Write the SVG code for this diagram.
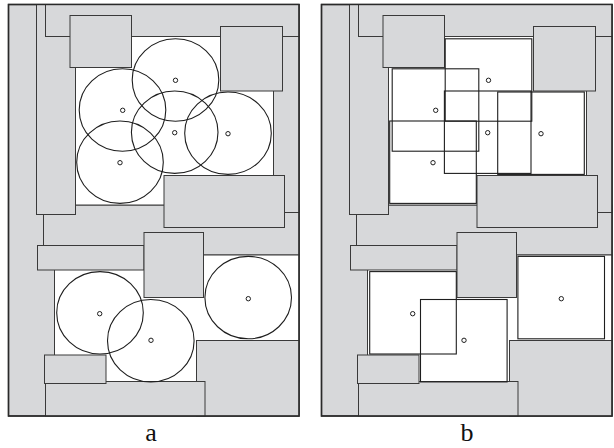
<svg xmlns="http://www.w3.org/2000/svg" xmlns:xlink="http://www.w3.org/1999/xlink" width="614" height="448" viewBox="0 0 614 448">
<style>
.g{fill:#d7d8da;stroke:#3a3a3a;stroke-width:1}
.w{fill:#ffffff;stroke:#3a3a3a;stroke-width:1}
.f{fill:#d7d8da;stroke:#2a2a2a;stroke-width:1.4}
.c{fill:none;stroke:#1e1e1e;stroke-width:1.1}
.d{fill:#ffffff;stroke:#1e1e1e;stroke-width:1}
.lbl{font-family:"Liberation Serif","DejaVu Serif",serif;font-size:26px;fill:#111;text-anchor:middle}
</style>
<defs>
<g id="layout">
<rect class="f" x="8.5" y="4.5" width="290.5" height="411.5"/>
<rect class="g" x="43.5" y="205" width="255.5" height="50"/>
<rect class="g" x="36.5" y="4.5" width="39" height="210"/>
<rect class="g" x="45.5" y="4.5" width="253.5" height="32"/>
<rect class="g" x="273.5" y="36.5" width="25.5" height="176"/>
<rect class="w" x="75.5" y="36.5" width="198" height="168.5"/>
<rect class="g" x="70" y="15.5" width="61.5" height="52"/>
<rect class="g" x="220.5" y="26.5" width="62" height="64.5"/>
<rect class="g" x="164" y="175.5" width="120.5" height="52"/>
<rect class="w" x="54.5" y="255" width="244.5" height="127"/>
<rect class="g" x="37.5" y="245.5" width="106.5" height="24.5"/>
<rect class="g" x="144" y="232.5" width="59.5" height="65"/>
<rect class="g" x="196.5" y="340.5" width="102.5" height="75.5"/>
<rect class="g" x="45.5" y="381.5" width="159.5" height="34.5"/>
<rect class="g" x="44.5" y="355" width="61.5" height="28.5"/>
<rect x="8.5" y="4.5" width="290.5" height="411.5" fill="none" stroke="#2a2a2a" stroke-width="1.4"/>
</g>
</defs>
<g id="panel-a">
<use xlink:href="#layout" href="#layout"/>
<g id="circles-a">
<ellipse class="c" cx="175.5" cy="80" rx="43.3" ry="41.2"/>
<ellipse class="c" cx="122.5" cy="110" rx="43.3" ry="41.2"/>
<ellipse class="c" cx="174.7" cy="132.2" rx="43.3" ry="41.2"/>
<ellipse class="c" cx="228" cy="133.2" rx="43.3" ry="41.2"/>
<ellipse class="c" cx="120" cy="162.2" rx="43.3" ry="41.2"/>
<ellipse class="c" cx="100" cy="312.8" rx="43.3" ry="41.2"/>
<ellipse class="c" cx="150.8" cy="340.7" rx="43.3" ry="41.2"/>
<ellipse class="c" cx="248.2" cy="297.6" rx="43.3" ry="41.2"/>
</g>
<g id="centers-a">
<circle class="d" cx="175.5" cy="80.3" r="2.2"/>
<circle class="d" cx="122.7" cy="110.3" r="2.2"/>
<circle class="d" cx="174.7" cy="132.7" r="2.2"/>
<circle class="d" cx="228" cy="133.7" r="2.2"/>
<circle class="d" cx="120" cy="162.7" r="2.2"/>
<circle class="d" cx="99.7" cy="313.7" r="2.2"/>
<circle class="d" cx="151" cy="340.3" r="2.2"/>
<circle class="d" cx="248.3" cy="298.7" r="2.2"/>
</g>
<text class="lbl" x="151" y="441">a</text>
</g>
<g id="panel-b">
<use xlink:href="#layout" href="#layout" transform="translate(313,0)"/>
<g id="squares-b" transform="translate(313,0)">
<rect class="c" x="132.2" y="38.8" width="86.6" height="82.4"/>
<rect class="c" x="79.2" y="68.8" width="86.6" height="82.4"/>
<rect class="c" x="131.4" y="91" width="86.6" height="82.4"/>
<rect class="c" x="184.7" y="92" width="86.6" height="82.4"/>
<rect class="c" x="76.7" y="121" width="86.6" height="82.4"/>
<rect class="c" x="56.7" y="271.6" width="86.6" height="82.4"/>
<rect class="c" x="107.5" y="299.5" width="86.6" height="82.4"/>
<rect class="c" x="204.9" y="256.4" width="86.6" height="82.4"/>
</g>
<g id="centers-b" transform="translate(313,0)">
<circle class="d" cx="175.5" cy="80.3" r="2.2"/>
<circle class="d" cx="122.7" cy="110.3" r="2.2"/>
<circle class="d" cx="174.7" cy="132.7" r="2.2"/>
<circle class="d" cx="228" cy="133.7" r="2.2"/>
<circle class="d" cx="120" cy="162.7" r="2.2"/>
<circle class="d" cx="99.7" cy="313.7" r="2.2"/>
<circle class="d" cx="151" cy="340.3" r="2.2"/>
<circle class="d" cx="248.3" cy="298.7" r="2.2"/>
</g>
<text class="lbl" x="467" y="441">b</text>
</g>
</svg>
